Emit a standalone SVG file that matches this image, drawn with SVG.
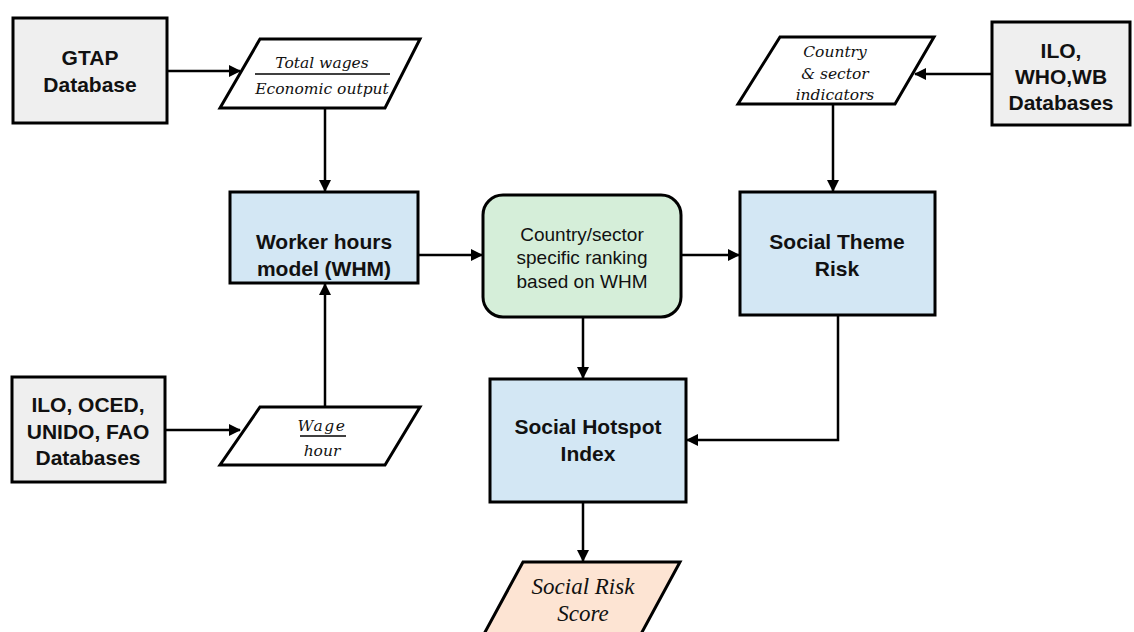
<svg xmlns="http://www.w3.org/2000/svg" width="1134" height="632" viewBox="0 0 1134 632">
<defs>
<marker id="ah" markerWidth="12" markerHeight="12" refX="11" refY="6" orient="auto" markerUnits="userSpaceOnUse" viewBox="0 0 12 12">
<path d="M0,0 L12,6 L0,12 z" fill="#000"/>
</marker>
<style>
.box{stroke:#000;stroke-width:3}
.db{fill:#efefef}
.blue{fill:#d3e7f4}
.green{fill:#d5eed9}
.io{fill:#fff;stroke:#000;stroke-width:3}
.out{fill:#fde4d3;stroke:#000;stroke-width:3}
.b{font-family:"Liberation Sans",Arial,sans-serif;font-weight:bold;font-size:21px;fill:#111;text-anchor:middle}
.n{font-family:"Liberation Sans",Arial,sans-serif;font-size:19px;fill:#111;text-anchor:middle}
.m{font-family:"DejaVu Serif","Liberation Serif",serif;font-style:italic;font-size:15.5px;fill:#111;text-anchor:middle}
.s{font-family:"Liberation Serif",serif;font-style:italic;font-size:23px;fill:#111;text-anchor:middle}
.c{fill:none;stroke:#000;stroke-width:2.5}
</style>
</defs>
<rect width="1134" height="632" fill="#fff"/>

<g id="gtap">
<rect class="box db" x="13" y="18" width="154" height="105"/>
<text class="b" x="90" y="65">GTAP</text>
<text class="b" x="90" y="92">Database</text>
</g>

<g id="wages-output">
<polygon class="io" points="260,39 420,39 385,108 220,108"/>
<text class="m" x="322" y="68">Total wages</text>
<line x1="255" y1="74" x2="390" y2="74" stroke="#000" stroke-width="1.5"/>
<text class="m" x="322" y="94">Economic output</text>
</g>

<g id="ilo-who-wb">
<rect class="box db" x="992" y="22" width="138" height="103"/>
<text class="b" x="1061" y="58">ILO,</text>
<text class="b" x="1061" y="84">WHO,WB</text>
<text class="b" x="1061" y="110">Databases</text>
</g>

<g id="indicators">
<polygon class="io" points="780,37 934,37 895,104 738,104"/>
<text class="m" x="835" y="57">Country</text>
<text class="m" x="835" y="79">&amp; sector</text>
<text class="m" x="835" y="100">indicators</text>
</g>

<g id="ilo-oced">
<rect class="box db" x="12" y="377" width="153" height="105"/>
<text class="b" x="88" y="412">ILO, OCED,</text>
<text class="b" x="88" y="439">UNIDO, FAO</text>
<text class="b" x="88" y="465">Databases</text>
</g>

<g id="wage-hour">
<polygon class="io" points="260,407 420,407 385,465 220,465"/>
<text class="m" x="322" y="431" letter-spacing="1.5">Wage</text>
<line x1="300" y1="436" x2="346" y2="436" stroke="#000" stroke-width="1.5"/>
<text class="m" x="322" y="456">hour</text>
</g>

<g id="whm">
<rect class="box blue" x="230" y="192" width="188" height="91"/>
<text class="b" x="324" y="249">Worker hours</text>
<text class="b" x="324" y="276">model (WHM)</text>
</g>

<g id="ranking">
<rect class="box green" x="483" y="195" width="198" height="122" rx="20" ry="20"/>
<text class="n" x="582" y="241">Country/sector</text>
<text class="n" x="582" y="264">specific ranking</text>
<text class="n" x="582" y="288">based on WHM</text>
</g>

<g id="str">
<rect class="box blue" x="740" y="192" width="195" height="123"/>
<text class="b" x="837" y="249">Social Theme</text>
<text class="b" x="837" y="276">Risk</text>
</g>

<g id="shi">
<rect class="box blue" x="490" y="379" width="196" height="123"/>
<text class="b" x="588" y="434">Social Hotspot</text>
<text class="b" x="588" y="461">Index</text>
</g>

<g id="srs">
<polygon class="out" points="523,562 680,562 641,634 484,634"/>
<text class="s" x="583" y="594">Social Risk</text>
<text class="s" x="583" y="621">Score</text>
</g>

<g id="connectors">
<line class="c" x1="167" y1="71" x2="240" y2="71" marker-end="url(#ah)"/>
<line class="c" x1="325" y1="108" x2="325" y2="191" marker-end="url(#ah)"/>
<line class="c" x1="992" y1="74" x2="915" y2="74" marker-end="url(#ah)"/>
<line class="c" x1="833" y1="104" x2="833" y2="191" marker-end="url(#ah)"/>
<line class="c" x1="165" y1="430" x2="240" y2="430" marker-end="url(#ah)"/>
<line class="c" x1="325" y1="407" x2="325" y2="284" marker-end="url(#ah)"/>
<line class="c" x1="418" y1="255" x2="482" y2="255" marker-end="url(#ah)"/>
<line class="c" x1="681" y1="255" x2="739" y2="255" marker-end="url(#ah)"/>
<line class="c" x1="583" y1="317" x2="583" y2="378" marker-end="url(#ah)"/>
<polyline class="c" points="838,315 838,440 687,440" marker-end="url(#ah)"/>
<line class="c" x1="583" y1="502" x2="583" y2="561" marker-end="url(#ah)"/>
</g>
</svg>
